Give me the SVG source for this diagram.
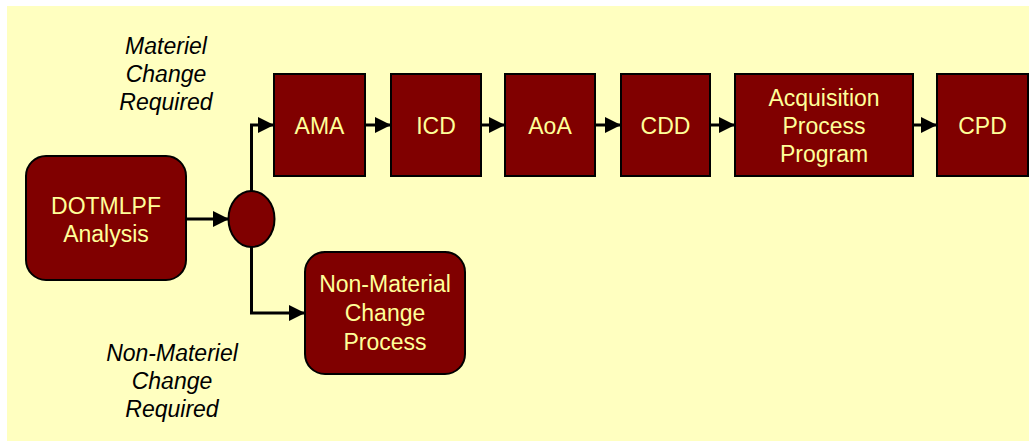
<svg xmlns="http://www.w3.org/2000/svg" width="1029" height="441" viewBox="0 0 1029 441">
<defs>
<style>
.box{fill:#800000;stroke:#000;stroke-width:2}
.bt{fill:#FFFF99;font-family:"Liberation Sans",Arial,sans-serif;font-size:23px;text-anchor:middle}
.lab{fill:#000;font-family:"Liberation Sans",Arial,sans-serif;font-size:23px;font-style:italic;text-anchor:middle}
.con{fill:none;stroke:#000;stroke-width:3}
</style>
<marker id="ah" viewBox="0 0 10 10" refX="10" refY="5" markerWidth="16" markerHeight="16" markerUnits="userSpaceOnUse" orient="auto">
<path d="M0,0 L10,5 L0,10 z" fill="#000"/>
</marker>
</defs>
<rect x="7" y="6" width="1022" height="435" fill="#FFFFC0"/>
<g id="connectors">
<path class="con" d="M186,219 H229" marker-end="url(#ah)"/>
<path class="con" d="M251.5,191 V125 H274" marker-end="url(#ah)"/>
<path class="con" d="M251.5,247 V313 H305" marker-end="url(#ah)"/>
<path class="con" d="M365,125 H391" marker-end="url(#ah)"/>
<path class="con" d="M481,125 H505" marker-end="url(#ah)"/>
<path class="con" d="M595,125 H621" marker-end="url(#ah)"/>
<path class="con" d="M710,125 H735" marker-end="url(#ah)"/>
<path class="con" d="M913,125 H937" marker-end="url(#ah)"/>
</g>
<g id="dotmlpf">
<rect class="box" x="26" y="156" width="160" height="124" rx="20"/>
<text class="bt" x="106" y="214">DOTMLPF</text>
<text class="bt" x="106" y="242">Analysis</text>
</g>
<g id="decision">
<ellipse class="box" cx="251.5" cy="219" rx="23" ry="28"/>
</g>
<g id="ama">
<rect class="box" x="274" y="74" width="91" height="102"/>
<text class="bt" x="319.5" y="134">AMA</text>
</g>
<g id="icd">
<rect class="box" x="391" y="74" width="90" height="102"/>
<text class="bt" x="436" y="134">ICD</text>
</g>
<g id="aoa">
<rect class="box" x="505" y="74" width="90" height="102"/>
<text class="bt" x="550" y="134">AoA</text>
</g>
<g id="cdd">
<rect class="box" x="621" y="74" width="89" height="102"/>
<text class="bt" x="665.5" y="134">CDD</text>
</g>
<g id="acq">
<rect class="box" x="735" y="74" width="178" height="102"/>
<text class="bt" x="824" y="106">Acquisition</text>
<text class="bt" x="824" y="134">Process</text>
<text class="bt" x="824" y="162">Program</text>
</g>
<g id="cpd">
<rect class="box" x="937" y="74" width="91" height="102"/>
<text class="bt" x="982.5" y="134">CPD</text>
</g>
<g id="nonmat">
<rect class="box" x="305" y="252" width="160" height="122" rx="20"/>
<text class="bt" x="385" y="292">Non-Material</text>
<text class="bt" x="385" y="321">Change</text>
<text class="bt" x="385" y="350">Process</text>
</g>
<g id="labels">
<text class="lab" x="166" y="54">Materiel</text>
<text class="lab" x="166" y="82">Change</text>
<text class="lab" x="166" y="110">Required</text>
<text class="lab" x="172" y="361">Non-Materiel</text>
<text class="lab" x="172" y="389">Change</text>
<text class="lab" x="172" y="417">Required</text>
</g>
</svg>
